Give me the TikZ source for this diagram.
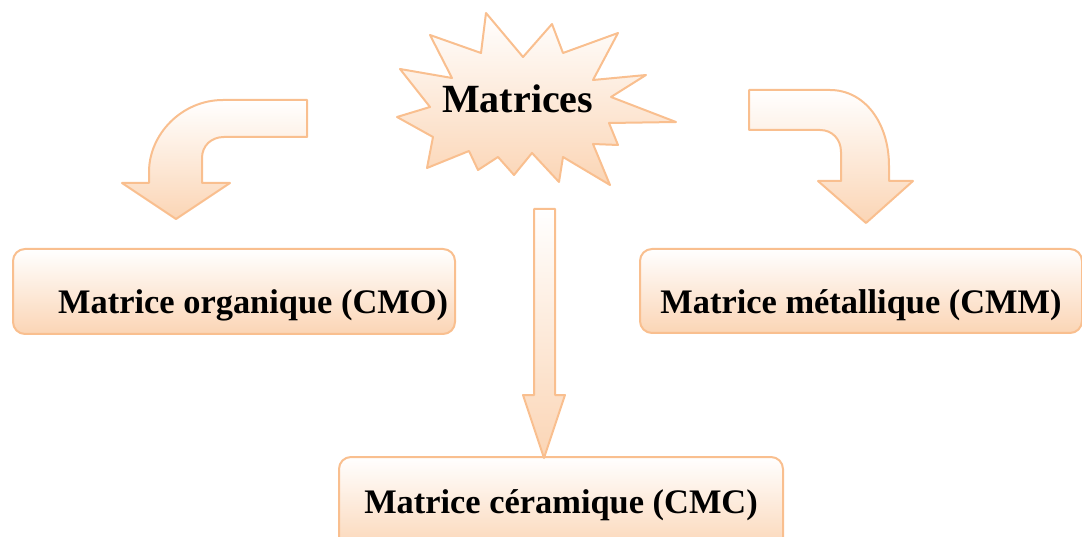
\documentclass[tikz,border=0pt]{standalone}
\usepackage{fontspec}
\setmainfont{Liberation Serif}
\definecolor{peachline}{HTML}{F9BF8F}
\definecolor{peachfill}{HTML}{FBD5B5}

\begin{document}
\begin{tikzpicture}[x=1pt,y=-1pt,
  blockfill/.style={draw=peachline,line width=2pt,line join=round,top color=white,bottom color=peachfill},
  matbox/.style={blockfill,rounded corners=12pt,inner sep=0pt,anchor=north west,font=\fontsize{34.4pt}{40pt}\selectfont\bfseries}]
\useasboundingbox (0,0) rectangle (1082,537);
\path[blockfill] (486,13)--(523,57)--(552,24)--(563,53)--(618,33)--(593,80)--(646,75)--(611,97)--(676,122)--(609,123)--(618,145)--(593,144)--(610,185)--(563,157)--(559,182)--(532,153)--(514,175)--(498,157)--(478,170)--(469,151)--(427,168)--(433,137)--(397,117)--(430,107)--(400,69)--(452,78)--(430,35)--(481,53)--cycle;
\node[font=\fontsize{40pt}{48pt}\selectfont\bfseries,anchor=base west,inner sep=0pt] (mat) at (442,113) {Matrices};
\path[blockfill] (307,100)--(223,100) .. controls (182,100) and (149,134) .. (149,172)--(149,183)--(122,183)--(176,219)--(230,183)--(202,183)--(202,158) .. controls (202,146) and (211,137) .. (224,137)--(307,137)--cycle;
\path[blockfill] (749,90)--(830,90) .. controls (864,90) and (889,122) .. (889,166)--(889,181)--(913,181)--(866,223)--(818,181)--(841,181)--(841,152) .. controls (841,139) and (832,130) .. (820,130)--(749,130)--cycle;
\node[matbox,text width=428pt,align=flush right,inner xsep=7pt,text height=65pt,text depth=20pt] (cmo) at (12,248) {Matrice organique (CMO)};
\node[matbox,minimum width=442pt,text height=65pt,text depth=19pt] (cmm) at (639,248) {Matrice m\'etallique (CMM)};
\node[matbox,minimum width=444pt,text height=56pt,text depth=40pt] (cmc) at (338,456) {Matrice c\'eramique (CMC)};
\path[blockfill] (534,209)--(555,209)--(555,395)--(565,395)--(544,458)--(523,395)--(534,395)--cycle;
\end{tikzpicture}
\end{document}
